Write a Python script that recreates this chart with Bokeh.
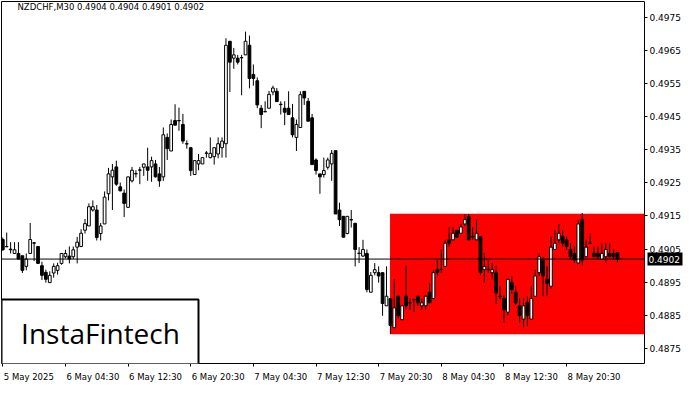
from bokeh.plotting import figure
from bokeh.models import (FixedTicker, Range1d, Span, Label, BoxAnnotation,
                          ColumnDataSource, PrintfTickFormatter)
from bokeh.core.properties import value
from bokeh.embed import file_html
from bokeh.resources import INLINE

symbol = "NZDCHF,M30"
last_ohlc = ["0.4904", "0.4904", "0.4901", "0.4902"]

opens = [0.49079, 0.49058, 0.49048, 0.49037, 0.49037, 0.49030, 0.48998, 0.49037, 0.49069, 0.49058,
         0.49000, 0.48980, 0.48949, 0.48978, 0.48986, 0.49007, 0.49027, 0.49029, 0.49027, 0.49056,
         0.49058, 0.49107, 0.49120, 0.49168, 0.49168, 0.49097, 0.49126, 0.49217, 0.49268, 0.49298,
         0.49238, 0.49219, 0.49176, 0.49256, 0.49277, 0.49288, 0.49297, 0.49298, 0.49298, 0.49307,
         0.49277, 0.49268, 0.49387, 0.49346, 0.49438, 0.49438, 0.49426, 0.49368, 0.49356, 0.49275,
         0.49307, 0.49307, 0.49339, 0.49326, 0.49329, 0.49337, 0.49356, 0.49368, 0.49677, 0.49626,
         0.49626, 0.49628, 0.49636, 0.49665, 0.49577, 0.49558, 0.49475, 0.49464, 0.49475, 0.49524,
         0.49526, 0.49487, 0.49475, 0.49475, 0.49446, 0.49387, 0.49417, 0.49526, 0.49496, 0.49446,
         0.49319, 0.49277, 0.49275, 0.49297, 0.49307, 0.49347, 0.49168, 0.49149, 0.49097, 0.49139,
         0.49128, 0.49037, 0.49029, 0.49037, 0.48920, 0.48979, 0.48979, 0.48979, 0.48879, 0.48901,
         0.48813, 0.48908, 0.48837, 0.48908, 0.48888, 0.48898, 0.48908, 0.48879, 0.48879, 0.48920,
         0.48901, 0.48988, 0.48988, 0.48998, 0.49078, 0.49078, 0.49107, 0.49098, 0.49126, 0.49149,
         0.49088, 0.49078, 0.49088, 0.48988, 0.48988, 0.48979, 0.48979, 0.48908, 0.48901, 0.48860,
         0.48949, 0.48920, 0.48879, 0.48839, 0.48888, 0.48839, 0.48908, 0.48979, 0.49017, 0.48959,
         0.48938, 0.49049, 0.49078, 0.49088, 0.49078, 0.49049, 0.49037, 0.49008, 0.49139, 0.49027,
         0.49068, 0.49037, 0.49037, 0.49019, 0.49027, 0.49037, 0.49037, 0.49040]
highs = [0.49085, 0.49100, 0.49071, 0.49071, 0.49071, 0.49030, 0.49037, 0.49129, 0.49071, 0.49058,
         0.49012, 0.48988, 0.48983, 0.49007, 0.49009, 0.49037, 0.49048, 0.49058, 0.49058, 0.49087,
         0.49110, 0.49141, 0.49188, 0.49197, 0.49183, 0.49129, 0.49224, 0.49295, 0.49307, 0.49317,
         0.49251, 0.49230, 0.49268, 0.49298, 0.49288, 0.49298, 0.49307, 0.49356, 0.49329, 0.49319,
         0.49298, 0.49417, 0.49399, 0.49441, 0.49487, 0.49477, 0.49458, 0.49378, 0.49356, 0.49317,
         0.49337, 0.49326, 0.49346, 0.49387, 0.49356, 0.49387, 0.49387, 0.49686, 0.49677, 0.49657,
         0.49636, 0.49636, 0.49706, 0.49694, 0.49607, 0.49568, 0.49485, 0.49496, 0.49527, 0.49543,
         0.49536, 0.49496, 0.49496, 0.49526, 0.49488, 0.49441, 0.49526, 0.49526, 0.49506, 0.49458,
         0.49324, 0.49277, 0.49326, 0.49326, 0.49349, 0.49347, 0.49190, 0.49149, 0.49149, 0.49168,
         0.49128, 0.49056, 0.49078, 0.49049, 0.48981, 0.49008, 0.48998, 0.48979, 0.48998, 0.48901,
         0.48959, 0.48908, 0.48879, 0.49000, 0.48901, 0.48901, 0.48908, 0.48901, 0.48908, 0.48946,
         0.48988, 0.49017, 0.49049, 0.49078, 0.49117, 0.49117, 0.49107, 0.49126, 0.49156, 0.49156,
         0.49117, 0.49139, 0.49088, 0.49039, 0.49017, 0.49008, 0.49000, 0.48938, 0.48910, 0.48959,
         0.48969, 0.48938, 0.48901, 0.48901, 0.48908, 0.48938, 0.48988, 0.49037, 0.49027, 0.48998,
         0.49088, 0.49107, 0.49126, 0.49107, 0.49088, 0.49068, 0.49058, 0.49139, 0.49159, 0.49078,
         0.49098, 0.49058, 0.49058, 0.49068, 0.49068, 0.49068, 0.49049, 0.49040]
lows = [0.49045, 0.49056, 0.49037, 0.49037, 0.49020, 0.48978, 0.48986, 0.49037, 0.49014, 0.49007,
        0.48957, 0.48949, 0.48949, 0.48964, 0.48973, 0.49003, 0.49022, 0.49007, 0.49020, 0.49007,
        0.49056, 0.49097, 0.49120, 0.49163, 0.49076, 0.49076, 0.49126, 0.49197, 0.49168, 0.49241,
        0.49224, 0.49147, 0.49176, 0.49251, 0.49266, 0.49246, 0.49271, 0.49256, 0.49253, 0.49266,
        0.49238, 0.49256, 0.49319, 0.49346, 0.49424, 0.49407, 0.49368, 0.49353, 0.49271, 0.49275,
        0.49288, 0.49307, 0.49326, 0.49324, 0.49305, 0.49324, 0.49326, 0.49326, 0.49524, 0.49594,
        0.49607, 0.49514, 0.49636, 0.49535, 0.49543, 0.49475, 0.49415, 0.49464, 0.49475, 0.49514,
        0.49495, 0.49456, 0.49424, 0.49456, 0.49387, 0.49346, 0.49417, 0.49485, 0.49436, 0.49305,
        0.49275, 0.49217, 0.49266, 0.49290, 0.49256, 0.49156, 0.49120, 0.49086, 0.49095, 0.49115,
        0.48998, 0.49008, 0.49027, 0.48920, 0.48920, 0.48971, 0.48949, 0.48849, 0.48879, 0.48795,
        0.48813, 0.48842, 0.48837, 0.48867, 0.48867, 0.48860, 0.48879, 0.48867, 0.48867, 0.48888,
        0.48901, 0.48971, 0.48979, 0.48998, 0.49058, 0.49076, 0.49086, 0.49098, 0.49120, 0.49078,
        0.49078, 0.49078, 0.48971, 0.48949, 0.48979, 0.48959, 0.48885, 0.48899, 0.48828, 0.48850,
        0.48915, 0.48881, 0.48828, 0.48813, 0.48818, 0.48839, 0.48908, 0.48969, 0.48908, 0.48908,
        0.48930, 0.49047, 0.49068, 0.49058, 0.49047, 0.49019, 0.49008, 0.49008, 0.49000, 0.49027,
        0.49068, 0.49027, 0.49019, 0.49019, 0.49008, 0.49027, 0.49019, 0.49010]
closes = [0.49048, 0.49057, 0.49050, 0.49048, 0.49020, 0.48986, 0.49020, 0.49079, 0.49068, 0.49007,
          0.48971, 0.48959, 0.48971, 0.48998, 0.49000, 0.49037, 0.49037, 0.49020, 0.49048, 0.49071,
          0.49098, 0.49127, 0.49178, 0.49178, 0.49085, 0.49120, 0.49207, 0.49277, 0.49288, 0.49246,
          0.49226, 0.49188, 0.49268, 0.49288, 0.49278, 0.49289, 0.49307, 0.49288, 0.49317, 0.49268,
          0.49256, 0.49395, 0.49353, 0.49426, 0.49424, 0.49437, 0.49376, 0.49367, 0.49287, 0.49317,
          0.49317, 0.49326, 0.49340, 0.49339, 0.49356, 0.49368, 0.49376, 0.49665, 0.49614, 0.49636,
          0.49614, 0.49627, 0.49677, 0.49565, 0.49565, 0.49485, 0.49456, 0.49465, 0.49517, 0.49536,
          0.49495, 0.49486, 0.49463, 0.49456, 0.49395, 0.49426, 0.49516, 0.49506, 0.49436, 0.49305,
          0.49287, 0.49268, 0.49287, 0.49319, 0.49339, 0.49156, 0.49139, 0.49086, 0.49149, 0.49138,
          0.49049, 0.49038, 0.49049, 0.48928, 0.48971, 0.48988, 0.48969, 0.48886, 0.48908, 0.48820,
          0.48873, 0.48849, 0.48879, 0.48879, 0.48889, 0.48897, 0.48888, 0.48888, 0.48908, 0.48888,
          0.48979, 0.48979, 0.48989, 0.49068, 0.49068, 0.49098, 0.49086, 0.49117, 0.49139, 0.49078,
          0.49087, 0.49098, 0.48979, 0.48998, 0.48989, 0.48988, 0.48918, 0.48907, 0.48867, 0.48959,
          0.48928, 0.48888, 0.48850, 0.48879, 0.48850, 0.48901, 0.48969, 0.49027, 0.48969, 0.48947,
          0.49056, 0.49068, 0.49098, 0.49068, 0.49058, 0.49027, 0.49017, 0.49126, 0.49017, 0.49056,
          0.49067, 0.49027, 0.49027, 0.49037, 0.49049, 0.49027, 0.49027, 0.49020]

time_tick_bars = [0, 16, 32, 48, 64, 80, 96, 112, 128, 144]
time_tick_labels = ["5 May 2025", "6 May 04:30", "6 May 12:30", "6 May 20:30", "7 May 04:30",
                    "7 May 12:30", "7 May 20:30", "8 May 04:30", "8 May 12:30", "8 May 20:30"]
price_ticks = [0.4875, 0.4885, 0.4895, 0.4905, 0.4915, 0.4925, 0.4935, 0.4945, 0.4955, 0.4965, 0.4975]
current_price = 0.4902
pattern_start_bar = 98.9
pattern_top = 0.49157
pattern_bottom = 0.48793

x_start, x_end = -0.33, 163.9
y_start, y_end = 0.48705, 0.49797

# ---- layout constants ----
W, H = 684, 384
FRAME_W = 643
BORDER_BOTTOM = 19
FRAME_H = H - 1 - BORDER_BOTTOM
FONT = "DejaVu Sans"
FS = 9      # price labels, px
FS_X = 8.5  # time labels / title, px
px_per_bar = FRAME_W / (x_end - x_start)

# approximate DejaVu Sans advance widths (em) to left-align time labels at their ticks
ADV = {"0": .636, "1": .636, "2": .636, "3": .636, "4": .636, "5": .636, "6": .636, "7": .636,
       "8": .636, "9": .636, " ": .318, "M": .863, "a": .613, "y": .592, ":": .337}


def text_w(s, fs):
    return sum(ADV.get(ch, .6) for ch in s) * fs


label_centers = [b + (text_w(t, FS_X) / 2 + 1) / px_per_bar
                 for b, t in zip(time_tick_bars, time_tick_labels)]

idx = list(range(len(opens)))
bull = [c >= o for o, c in zip(opens, closes)]
src = ColumnDataSource(dict(
    x=idx, o=opens, h=highs, l=lows, c=closes,
    top=[max(o, c) for o, c in zip(opens, closes)],
    bottom=[min(o, c) for o, c in zip(opens, closes)],
    fill=["white" if b else "black" for b in bull],
))

p = figure(width=W, height=H, output_backend="svg", toolbar_location=None,
           x_range=Range1d(x_start, x_end), y_range=Range1d(y_start, y_end),
           y_axis_location="right", min_border_left=1, min_border_top=1,
           min_border_right=W - 1 - FRAME_W, min_border_bottom=BORDER_BOTTOM)
p.background_fill_color = "white"
p.border_fill_color = "white"
p.outline_line_color = "black"
p.outline_line_width = 1
p.grid.visible = False

# pattern rectangle
p.quad(left=[pattern_start_bar], right=[x_end], top=[pattern_top], bottom=[pattern_bottom],
       fill_color="#ff0000", line_color=None)

# candles
p.segment(x0="x", y0="h", x1="x", y1="l", source=src, line_color="black", line_width=1)
p.vbar(x="x", width=0.7, top="top", bottom="bottom", source=src,
       fill_color="fill", line_color="black", line_width=1)

p.add_layout(Span(location=current_price, dimension="width", line_color="black", line_width=1))

# price axis (right)
ya = p.yaxis[0]
ya.ticker = FixedTicker(ticks=price_ticks)
ya.formatter = PrintfTickFormatter(format="%.4f")
ya.major_tick_out = 3
ya.major_tick_in = 0
ya.minor_tick_out = 0
ya.minor_tick_in = 0
ya.axis_line_color = None
ya.major_label_standoff = 2
ya.major_label_text_font = FONT
ya.major_label_text_font_size = f"{FS}px"
ya.major_label_text_color = "black"

# time axis: minor ticks mark the times, major (invisible) ticks carry the labels
xa = p.xaxis[0]
xa.ticker = FixedTicker(ticks=label_centers, minor_ticks=time_tick_bars)
xa.major_label_overrides = {c: t for c, t in zip(label_centers, time_tick_labels)}
xa.major_tick_out = 0
xa.major_tick_in = 0
xa.major_tick_line_color = None
xa.minor_tick_out = 3
xa.minor_tick_in = 0
xa.minor_tick_line_color = "black"
xa.axis_line_color = None
xa.major_label_standoff = 5
xa.major_label_text_font = FONT
xa.major_label_text_font_size = f"{FS_X}px"
xa.major_label_text_color = "black"

# current price tag over the price axis (overlay level)
tag_x = x_end + (3 + 17.5) / px_per_bar
p.rect(x=[tag_x], y=[current_price], width=35, height=13, width_units="screen",
       height_units="screen", fill_color="black", line_color=None, level="overlay")
p.text(x=[x_end + 4 / px_per_bar], y=[current_price], text=[last_ohlc[3]],
       text_color="white", text_baseline="middle", text_align="left",
       text_font=value(FONT), text_font_size=f"{FS}px", level="overlay")

# title
p.add_layout(Label(x=16, y=FRAME_H - 7, x_units="screen", y_units="screen",
                   text=symbol + "  " + " ".join(last_ohlc),
                   text_color="black", text_baseline="middle",
                   text_font=FONT, text_font_size=f"{FS_X}px"))

# logo
p.add_layout(BoxAnnotation(left=0, right=197, bottom=-1, top=64,
                           left_units="screen", right_units="screen",
                           bottom_units="screen", top_units="screen",
                           fill_color="white", fill_alpha=1, line_color="black",
                           line_width=2, line_alpha=1))
p.add_layout(Label(x=99, y=31, x_units="screen", y_units="screen", text="InstaFintech",
                   text_align="center", text_baseline="middle", text_color="black",
                   text_font="Open Sans", text_font_size="28px"))

open("out.html", "w").write(file_html(p, INLINE))
